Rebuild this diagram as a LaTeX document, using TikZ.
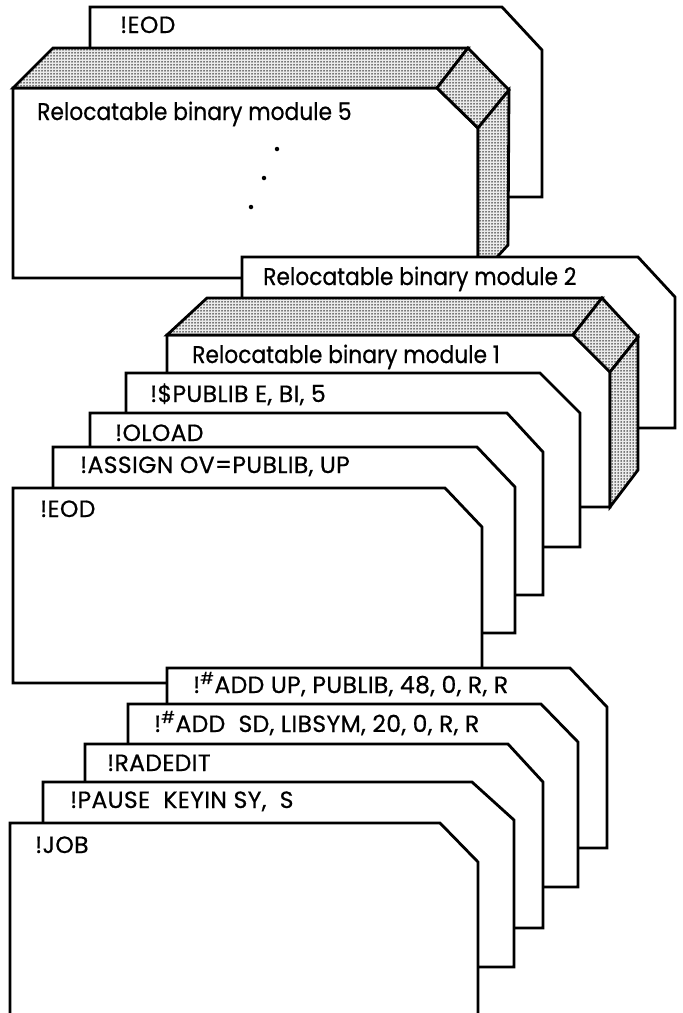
\documentclass[tikz,border=0pt]{standalone}
\usepackage{fontspec}
\setmainfont{Poppins}[FakeStretch=0.9,FakeBold=0.6]
\newfontfamily\capfont{Poppins}[FakeBold=0.6,LetterSpace=1.5]
\usetikzlibrary{patterns.meta}
\tikzset{
  card/.style={draw=black, fill=white, line width=2.8pt, line join=miter},
  shadeface/.style={draw=black, fill=black!8, line width=2.8pt, line join=miter,
    postaction={pattern={Dots[distance=3pt,radius=0.75pt]}, pattern color=black}},
  lbl/.style={anchor=base west, inner sep=0pt, font=\fontsize{24.2}{26}\selectfont},
  caplbl/.style={anchor=base west, inner sep=0pt, font=\capfont\fontsize{23.5}{26}\selectfont},
  dotmark/.style={fill=black, circle, inner sep=0pt, minimum size=4.5pt}
}
\newcommand\pcard[6]{\draw[card] (#1,#6) -- (#1,#2) -- (#3,#2) -- (#4,#5) -- (#4,#6) -- cycle;}
\begin{document}
\begin{tikzpicture}[x=1pt,y=-1pt]
\useasboundingbox (0,0) rectangle (683,1013);
\clip (0,0) rectangle (683,1013);
% back card !EOD
\pcard{90}{7}{502}{542}{50}{197}
\node[caplbl] (t1) at (120,33) {!EOD};
% module 5 (block)
\draw[card] (13,88) -- (437,88) -- (478,128) -- (478,278) -- (13,278) -- cycle;
\draw[shadeface] (13,88) -- (53,48) -- (468,48) -- (437,88) -- cycle;
\draw[shadeface] (437,88) -- (468,48) -- (509,90) -- (478,128) -- cycle;
\draw[shadeface] (478,128) -- (509,90) -- (508,245) -- (478,278) -- cycle;
\node[lbl] (t2) at (37,120) {Relocatable binary module 5};
\node[dotmark] (d1) at (277,149) {};
\node[dotmark] (d2) at (264,178) {};
\node[dotmark] (d3) at (251,207) {};
% module 2
\pcard{242}{257}{638}{675}{297}{428}
\node[lbl] (t3) at (263,285) {Relocatable binary module 2};
% module 1 (block)
\draw[card] (167,335) -- (573,335) -- (610,372) -- (610,507) -- (167,507) -- cycle;
\draw[shadeface] (167,335) -- (207,298) -- (602,298) -- (573,335) -- cycle;
\draw[shadeface] (573,335) -- (602,298) -- (638,337) -- (610,372) -- cycle;
\draw[shadeface] (610,372) -- (638,337) -- (638,470) -- (610,507) -- cycle;
\node[lbl] (t4) at (192,363) {Relocatable binary module 1};
% control cards
\pcard{126}{373}{540}{580}{413}{547}
\node[caplbl] (t5) at (150,402) {!\$PUBLIB E, BI, 5};
\pcard{90}{413}{507}{543}{452}{595}
\node[caplbl] (t6) at (115,441) {!OLOAD};
\pcard{53}{447}{477}{515}{487}{633}
\node[caplbl] (t7) at (80,473) {!ASSIGN OV=PUBLIB, UP};
\pcard{13}{488}{445}{482}{527}{683}
\node[caplbl] (t8) at (40,517) {!EOD};
\pcard{167}{668}{570}{607}{707}{848}
\node[caplbl] (t9) at (193,693) {!\textsuperscript{\#}ADD UP, PUBLIB, 48, 0, R, R};
\pcard{128}{704}{541}{578}{742}{887}
\node[caplbl] (t10) at (154,732) {!\textsuperscript{\#}ADD\ \ SD, LIBSYM, 20, 0, R, R};
\pcard{85}{744}{508}{543}{782}{928}
\node[caplbl] (t11) at (107,771) {!RADEDIT};
\pcard{43}{782}{472}{514}{820}{967}
\node[caplbl] (t12) at (70,808) {!PAUSE\ \ KEYIN SY,\ \ S};
\pcard{10}{823}{440}{478}{862}{1040}
\node[caplbl] (t13) at (35,853) {!JOB};
\end{tikzpicture}
\end{document}
